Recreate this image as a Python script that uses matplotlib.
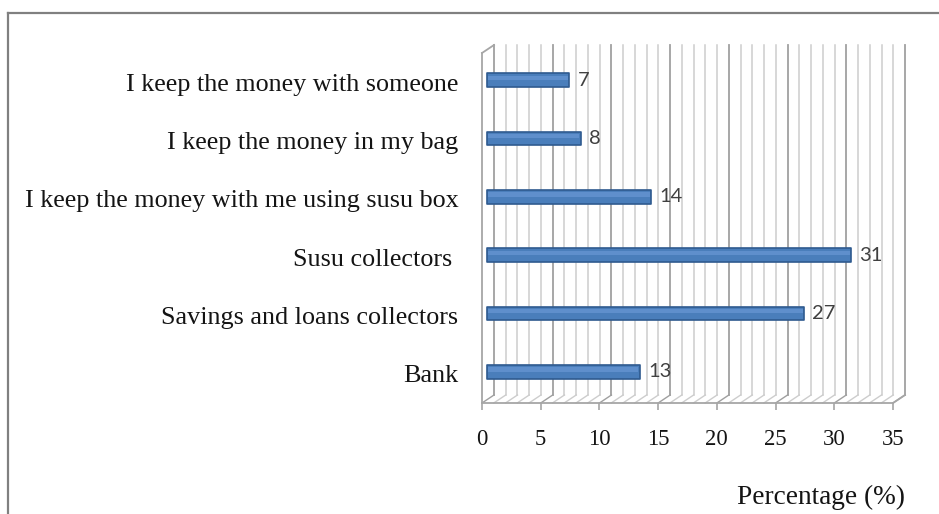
import matplotlib
matplotlib.use("Agg")
import matplotlib.pyplot as plt
import matplotlib.transforms as mtransforms
from matplotlib.lines import Line2D

categories = [
    "Bank",
    "Savings and loans collectors",
    "Susu collectors ",
    "I keep the money with me using susu box",
    "I keep the money in my bag",
    "I keep the money with someone",
]
values = [13, 27, 31, 14, 8, 7]
x_ticks = [0, 5, 10, 15, 20, 25, 30, 35]
x_label = "Percentage (%)"

W, H, DPI = 939, 514, 100
fig = plt.figure(figsize=(W / DPI, H / DPI), dpi=DPI)
fig.patch.set_facecolor("white")

# front face of the pseudo-3D plot area, in pixels (top-origin)
left_px, right_px, top_px, bottom_px = 482, 893, 53, 403
ax = fig.add_axes([left_px / W, 1 - bottom_px / H,
                   (right_px - left_px) / W, (bottom_px - top_px) / H])
ax.set_xlim(0, 35)
ax.set_ylim(-0.5, len(categories) - 0.5)
ax.set_facecolor("none")

# depth offset of the back wall (pixels)
depth_dx, depth_dy = 12, 8
px_per_unit = (right_px - left_px) / 35.0
dx_data = depth_dx / px_per_unit
dy_frac = depth_dy / (bottom_px - top_px)

xa = ax.get_xaxis_transform()
minor_col = "#cdcdcd"
major_col = "#a0a0a0"

# back-wall vertical gridlines and floor diagonals at every unit
for v in range(0, 36):
    col = major_col if v % 5 == 0 else minor_col
    lw = 1.3 if v % 5 == 0 else 1.1
    ax.add_line(Line2D([v + dx_data, v + dx_data], [dy_frac, 1 + dy_frac],
                       transform=xa, color=col, lw=lw, clip_on=False, zorder=1))
    ax.add_line(Line2D([v, v + dx_data], [0, dy_frac],
                       transform=xa, color=col, lw=1.0, clip_on=False, zorder=1))

# frame edges of the 3D box
edge_col = "#a6a6a6"
ax.add_line(Line2D([0, dx_data], [1, 1 + dy_frac], transform=xa,
                   color=edge_col, lw=1.3, clip_on=False, zorder=2))
ax.add_line(Line2D([35, 35 + dx_data], [0, dy_frac], transform=xa,
                   color=edge_col, lw=1.3, clip_on=False, zorder=2))

for s in ["top", "right"]:
    ax.spines[s].set_visible(False)
for s in ["left", "bottom"]:
    ax.spines[s].set_color(edge_col)
    ax.spines[s].set_linewidth(1.3)

# bars sit mid-depth between the front face and the back wall
bar_shift = mtransforms.ScaledTranslation(0.05, 0.02, fig.dpi_scale_trans)
bar_tr = ax.transData + bar_shift
ypos = list(range(len(categories)))
bars = ax.barh(ypos, values, height=0.23, color="#4a7ebb",
               edgecolor="#2f5a8f", linewidth=1.2, zorder=3)
for b in bars:
    b.set_transform(bar_tr)
    b.set_joinstyle("round")
hl = ax.barh([y + 0.04 for y in ypos], [v - 0.25 for v in values], height=0.07,
             left=0.12, color="#5f8fcc", linewidth=0, zorder=4)
for b in hl:
    b.set_transform(bar_tr)

for y, v in zip(ypos, values):
    ax.annotate(str(v), xy=(v, y), xycoords=bar_tr,
                xytext=(6, 0), textcoords="offset points",
                ha="left", va="center", fontsize=14.5,
                family="Lato", color="#404040", zorder=5)

serif = "Liberation Serif"
ax.set_yticks(ypos)
ax.set_yticklabels(categories, family=serif, fontsize=18.8, color="#141414")
ax.tick_params(axis="y", length=0, pad=17)

ax.set_xticks(x_ticks)
ax.set_xticklabels([str(t) for t in x_ticks], family=serif, fontsize=16.3,
                   color="#141414")
ax.tick_params(axis="x", length=5, width=1.2, color=edge_col, pad=14)

fig.text(905 / W, 1 - 497 / H, x_label, ha="right", va="center",
         family=serif, fontsize=19.6, color="#141414")

# outer chart border (left and top edges visible)
fig.add_artist(Line2D([8 / W, 8 / W], [0, 1 - 13 / H], transform=fig.transFigure,
                      color="#808080", lw=1.6))
fig.add_artist(Line2D([8 / W, 1], [1 - 13 / H, 1 - 13 / H], transform=fig.transFigure,
                      color="#808080", lw=1.6))

fig.savefig("out.png", dpi=DPI, facecolor="white")
